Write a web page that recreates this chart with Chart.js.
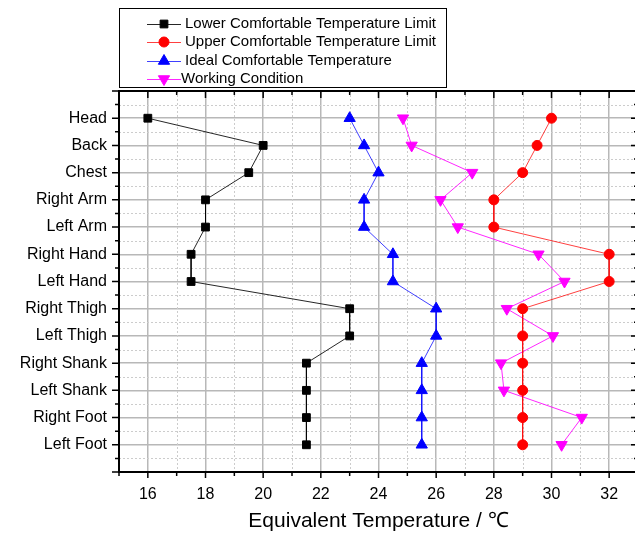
<!DOCTYPE html>
<html>
<head>
<meta charset="utf-8">
<script src="https://cdn.jsdelivr.net/npm/chart.js@4.4.1/dist/chart.umd.min.js"></script>
<style>
  body { margin: 0; overflow: hidden; background: #fff; }
  #wrap { width: 651px; height: 536px; }
</style>
</head>
<body>
<div id="wrap"><canvas id="chart" width="651" height="536"></canvas></div>
<script>
// Body parts (y axis, top to bottom)
const bodyParts = ['Head', 'Back', 'Chest', 'Right Arm', 'Left Arm', 'Right Hand', 'Left Hand',
  'Right Thigh', 'Left Thigh', 'Right Shank', 'Left Shank', 'Right Foot', 'Left Foot'];

// Equivalent temperature values (°C)
const lowerLimit = [16, 20, 19.5, 18, 18, 17.5, 17.5, 23, 23, 21.5, 21.5, 21.5, 21.5];
const upperLimit = [30, 29.5, 29, 28, 28, 32, 32, 29, 29, 29, 29, 29, 29];
const idealTemp = [23, 23.5, 24, 23.5, 23.5, 24.5, 24.5, 26, 26, 25.5, 25.5, 25.5, 25.5];
const workingCond = [24.85, 25.15, 27.25, 26.15, 26.75, 29.55, 30.45, 28.45, 30.05, 28.25, 28.35, 31.05, 30.35];

const xMin = 15;
const xMax = 33;
const xLabelTicks = [16, 18, 20, 22, 24, 26, 28, 30, 32];

const FONT = "'Liberation Sans', Arial, sans-serif";
Chart.defaults.font.family = FONT;
Chart.defaults.color = '#000';

function toPoints(values) {
  return values.map((v, i) => ({ x: v, y: i }));
}

const series = [
  { label: 'Lower Comfortable Temperature Limit', data: lowerLimit, color: '#000000', line: 'rgba(0,0,0,0.85)', style: 'rect', radius: 5.5, rotation: 0 },
  { label: 'Upper Comfortable Temperature Limit', data: upperLimit, color: '#ff0000', line: 'rgba(255,0,0,0.75)', style: 'circle', radius: 5, rotation: 0 },
  { label: 'Ideal Comfortable Temperature', data: idealTemp, color: '#0000ff', line: 'rgba(0,0,255,0.75)', style: 'triangle', radius: 6.5, rotation: 0 },
  { label: 'Working Condition', data: workingCond, color: '#ff00ff', line: 'rgba(255,0,255,0.85)', style: 'triangle', radius: 6.5, rotation: 180 }
];

// Frame, minor dotted grid, ticks on all four sides, boxed legend
const framePlugin = {
  id: 'framePlugin',
  beforeDatasetsDraw(chart) {
    const { ctx, chartArea: a, scales: { x, y } } = chart;
    ctx.save();
    ctx.strokeStyle = '#cccccc';
    ctx.lineWidth = 1;
    ctx.setLineDash([2, 2]);
    for (let v = xMin; v <= xMax; v++) {
      if (v % 2 === 0) continue;
      const px = Math.round(x.getPixelForValue(v)) + 0.5;
      ctx.beginPath(); ctx.moveTo(px, a.top); ctx.lineTo(px, a.bottom); ctx.stroke();
    }
    for (let v = -0.5; v <= bodyParts.length; v += 1) {
      const py = Math.round(y.getPixelForValue(v)) + 0.5;
      ctx.beginPath(); ctx.moveTo(a.left, py); ctx.lineTo(a.right, py); ctx.stroke();
    }
    ctx.restore();
  },
  afterDatasetsDraw(chart) {
    const { ctx, chartArea: a, scales: { x, y } } = chart;
    ctx.save();
    ctx.strokeStyle = '#000';
    ctx.lineWidth = 2;
    ctx.strokeRect(a.left, a.top, a.right - a.left, a.bottom - a.top);
    ctx.lineWidth = 1.5;
    // x ticks: bottom outward, top inward
    for (let v = xMin; v <= xMax; v++) {
      const px = x.getPixelForValue(v);
      const major = v % 2 === 0;
      ctx.beginPath();
      ctx.moveTo(px, a.bottom); ctx.lineTo(px, a.bottom + (major ? 6 : 4));
      ctx.moveTo(px, a.top); ctx.lineTo(px, a.top + (major ? 7 : 4));
      ctx.stroke();
    }
    // y ticks: left outward, right inward
    for (let v = -1; v <= bodyParts.length; v += 0.5) {
      const py = y.getPixelForValue(v);
      const major = Number.isInteger(v);
      ctx.beginPath();
      ctx.moveTo(a.left, py); ctx.lineTo(a.left - (major ? 7 : 4), py);
      ctx.moveTo(a.right, py); ctx.lineTo(a.right - (major ? 7 : 4), py);
      ctx.stroke();
    }
    ctx.restore();
  },
  afterDraw(chart) {
    const { ctx } = chart;
    ctx.save();
    ctx.strokeStyle = '#000';
    ctx.lineWidth = 1;
    ctx.strokeRect(119.5, 8.5, 327, 79);
    const rows = [24, 42, 61, 79];
    const textX = [185, 185, 185, 181];
    series.forEach((s, i) => {
      const ry = rows[i];
      ctx.strokeStyle = s.line;
      ctx.lineWidth = 1;
      ctx.beginPath(); ctx.moveTo(147, ry + 0.5); ctx.lineTo(181, ry + 0.5); ctx.stroke();
      ctx.fillStyle = s.color;
      ctx.strokeStyle = s.color;
      Chart.helpers.drawPoint(ctx, { pointStyle: s.style, radius: s.radius, rotation: s.rotation, borderWidth: 1 }, 164, ry);
      ctx.fillStyle = '#000';
      ctx.font = '15px ' + FONT;
      ctx.textBaseline = 'middle';
      ctx.textAlign = 'left';
      ctx.fillText(s.label, textX[i], ry);
    });
    ctx.restore();
  }
};

new Chart(document.getElementById('chart'), {
  type: 'line',
  data: {
    datasets: series.map(s => ({
      label: s.label,
      data: toPoints(s.data),
      borderColor: s.line,
      borderWidth: 1,
      backgroundColor: s.color,
      pointBackgroundColor: s.color,
      pointBorderColor: s.color,
      pointBorderWidth: 1,
      pointStyle: s.style,
      pointRadius: s.radius,
      pointRotation: s.rotation,
      tension: 0
    }))
  },
  options: {
    responsive: false,
    animation: false,
    devicePixelRatio: 1,
    layout: { padding: { top: 91, right: 4, left: 0, bottom: 0 } },
    plugins: {
      legend: { display: false },
      tooltip: { enabled: false }
    },
    scales: {
      x: {
        type: 'linear',
        min: xMin,
        max: xMax,
        afterFit: (scale) => { scale.height = 64; },
        afterBuildTicks: (scale) => {
          const t = [];
          for (let v = xMin; v <= xMax; v++) t.push({ value: v });
          scale.ticks = t;
        },
        ticks: {
          autoSkip: false,
          maxRotation: 0,
          padding: 13,
          font: { size: 16 },
          color: '#000',
          callback: (v) => xLabelTicks.includes(v) ? String(v) : ''
        },
        grid: {
          drawTicks: false,
          lineWidth: 1.5,
          color: (c) => (c.tick && xLabelTicks.includes(c.tick.value)) ? '#b8b8b8' : 'rgba(0,0,0,0)'
        },
        border: { display: false },
        title: {
          display: true,
          text: 'Equivalent Temperature / ℃',
          font: { size: 21 },
          color: '#000',
          padding: { top: 0, bottom: 2 }
        }
      },
      y: {
        type: 'linear',
        reverse: true,
        min: -1,
        max: bodyParts.length,
        afterFit: (scale) => { scale.width = 119; },
        afterBuildTicks: (scale) => {
          scale.ticks = bodyParts.map((_, i) => ({ value: i }));
        },
        ticks: {
          autoSkip: false,
          padding: 12,
          font: { size: 16 },
          color: '#000',
          callback: (v) => bodyParts[v] !== undefined ? bodyParts[v] : ''
        },
        grid: {
          drawTicks: false,
          lineWidth: 1.5,
          color: '#b8b8b8'
        },
        border: { display: false }
      }
    }
  },
  plugins: [framePlugin]
});
</script>
</body>
</html>
